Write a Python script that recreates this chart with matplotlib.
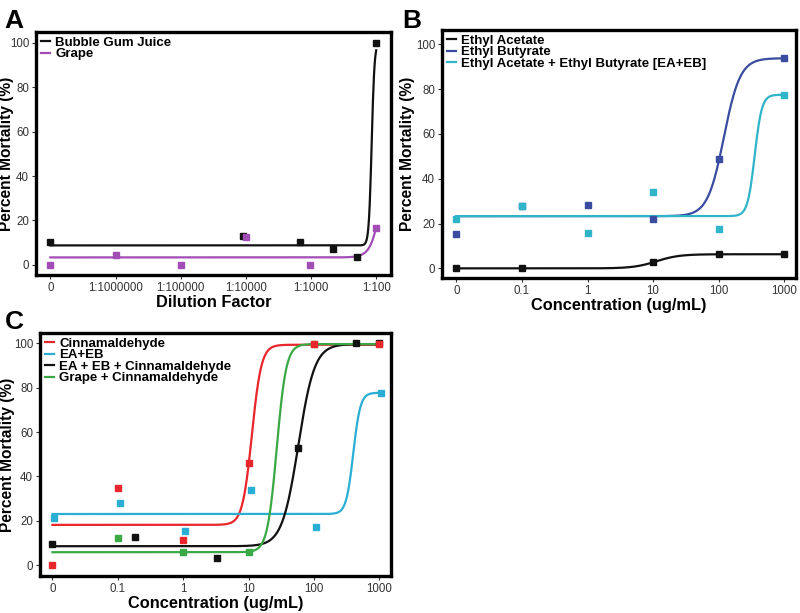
import numpy as np
import matplotlib
matplotlib.use("Agg")
import matplotlib.pyplot as plt

plt.rcParams['font.family'] = ['Liberation Sans', 'DejaVu Sans']

# ---------------- Panel A data ----------------
a_tick_labels = ["0", "1:1000000", "1:100000", "1:10000", "1:1000", "1:100"]
a_tick_vals = [0, 1e-6, 1e-5, 1e-4, 1e-3, 1e-2]
a_bgj_x = [0, 8.9e-5, 6.8e-4, 2.2e-3, 5.1e-3, 1e-2]
a_bgj_y = [10.2, 13.2, 10.2, 7.0, 3.7, 100.0]
a_grape_x = [0, 1e-6, 1e-5, 1.0e-4, 9.5e-4, 1e-2]
a_grape_y = [0.0, 4.3, 0.0, 12.6, 0.0, 16.8]
# fitted 4PL parameters: bottom, top, log EC50, hill
a_bgj_fit = [8.8, 100.0, -2.07, 20.0]
a_grape_fit = [3.4, 95.0, -1.85, 5.0]

# ---------------- Panel B data ----------------
conc_tick_labels = ["0", "0.1", "1", "10", "100", "1000"]
conc_tick_vals = [0, 0.1, 1, 10, 100, 1000]
b_ea_x = [0, 0.1, 10, 100, 1000]
b_ea_y = [0.0, 0.0, 3.0, 6.4, 6.4]
b_eb_x = [0, 0.1, 1, 10, 100, 1000]
b_eb_y = [15.3, 28.0, 28.3, 22.0, 48.7, 94.0]
b_mix_x = [0, 0.1, 1, 10, 100, 1000]
b_mix_y = [21.9, 27.8, 15.6, 34.2, 17.7, 77.4]
b_ea_fit = [0.0, 6.3, 1.05, 2.5]
b_eb_fit = [23.3, 93.8, 2.08, 3.5]
b_mix_fit = [23.3, 77.5, 2.55, 8.0]

# ---------------- Panel C data ----------------
c_cin_x = [0, 0.1, 1, 10, 100, 1000]
c_cin_y = [0.0, 35.0, 11.3, 46.0, 99.5, 99.5]
c_mix_x = [0, 0.107, 1.06, 10.7, 107, 1050]
c_mix_y = [21.5, 27.9, 15.3, 33.9, 17.3, 77.6]
c_trip_x = [0, 0.18, 3.3, 57, 440, 1000]
c_trip_y = [9.6, 12.8, 3.5, 53.0, 100.0, 100.0]
c_grape_x = [0.1, 1, 10, 100]
c_grape_y = [12.5, 6.2, 6.2, 99.5]
c_cin_fit = [18.2, 99.3, 1.05, 6.0]
c_mix_fit = [23.1, 77.7, 2.6, 8.0]
c_trip_fit = [8.6, 99.6, 1.76, 3.5]
c_grape_fit = [5.9, 99.6, 1.43, 6.0]

BLACK = "#111111"
PURPLE = "#a24db5"
BLUE = "#3a4ca0"
CYAN_B = "#2fb4c8"
CYAN_C = "#2aaed3"
RED = "#e8262b"
GREEN = "#3aa845"


def pos(vals, zero_pos):
    v = np.asarray(vals, dtype=float)
    out = np.full(v.shape, float(zero_pos))
    nz = v > 0
    out[nz] = np.log10(v[nz])
    return out


def curve(p, x):
    b, t, ec, h = p
    return b + (t - b) / (1.0 + 10 ** ((ec - x) * h))


def style(ax, xlim, ylim, ticks, labels, xlabel, ylab_x):
    ax.set_xlim(*xlim)
    ax.set_ylim(*ylim)
    ax.set_xticks(ticks)
    ax.set_xticklabels(labels)
    ax.set_yticks([0, 20, 40, 60, 80, 100])
    for s in ax.spines.values():
        s.set_linewidth(2.4)
        s.set_color("black")
    ax.tick_params(direction="out", length=3, width=0.8, labelsize=8.3,
                   labelcolor="#333333", color="#333333", pad=2)
    ax.set_xlabel(xlabel, fontsize=11.8, fontweight="bold", labelpad=1)
    ax.set_ylabel("Percent Mortality (%)", fontsize=11.2, fontweight="bold")
    ax.yaxis.set_label_coords(ylab_x, 0.5)


def legend(ax):
    ax.legend(loc="upper left", frameon=False, handlelength=0.7,
              handletextpad=0.4, labelspacing=-0.06, borderpad=0.0,
              borderaxespad=0.35, prop={"weight": "bold", "size": 9.5})


fig = plt.figure(figsize=(8, 6.13), dpi=100)

# ---------- A ----------
axA = fig.add_axes([0.045, 0.5514, 0.444, 0.3966])
xa = np.linspace(-7, -2, 600)
axA.plot(xa, curve(a_bgj_fit, xa), color=BLACK, lw=1.6, label="Bubble Gum Juice")
axA.plot(xa, curve(a_grape_fit, xa), color=PURPLE, lw=1.6, label="Grape")
axA.plot(pos(a_bgj_x, -7), a_bgj_y, "s", color=BLACK, ms=4)
axA.plot(pos(a_grape_x, -7), a_grape_y, "s", color=PURPLE, ms=4)
style(axA, (-7.22, -1.77), (-4.5, 104.8), pos(a_tick_vals, -7), a_tick_labels,
      "Dilution Factor", -0.062)
legend(axA)
fig.text(0.006, 0.955, "A", fontsize=19, fontweight="bold")

# ---------- B ----------
axB = fig.add_axes([0.5525, 0.5465, 0.4425, 0.4046])
xb = np.linspace(-2, 3, 600)
axB.plot(xb, curve(b_ea_fit, xb), color=BLACK, lw=1.6, label="Ethyl Acetate")
axB.plot(xb, curve(b_eb_fit, xb), color=BLUE, lw=1.6, label="Ethyl Butyrate")
axB.plot(xb, curve(b_mix_fit, xb), color=CYAN_B, lw=1.6,
         label="Ethyl Acetate + Ethyl Butyrate [EA+EB]")
axB.plot(pos(b_ea_x, -2), b_ea_y, "s", color=BLACK, ms=4)
axB.plot(pos(b_eb_x, -2), b_eb_y, "s", color=BLUE, ms=4)
axB.plot(pos(b_mix_x, -2), b_mix_y, "s", color=CYAN_B, ms=4)
style(axB, (-2.22, 3.18), (-4.3, 106.4), pos(conc_tick_vals, -2), conc_tick_labels,
      "Concentration (ug/mL)", -0.077)
legend(axB)
fig.text(0.503, 0.955, "B", fontsize=19, fontweight="bold")

# ---------- C ----------
axC = fig.add_axes([0.05, 0.0604, 0.439, 0.3964])
xc = np.linspace(-2, 3, 600)
axC.plot(xc, curve(c_cin_fit, xc), color=RED, lw=1.6, label="Cinnamaldehyde")
axC.plot(xc, curve(c_mix_fit, xc), color=CYAN_C, lw=1.6, label="EA+EB")
axC.plot(xc, curve(c_trip_fit, xc), color=BLACK, lw=1.6, label="EA + EB + Cinnamaldehyde")
axC.plot(xc, curve(c_grape_fit, xc), color=GREEN, lw=1.6, label="Grape + Cinnamaldehyde")
axC.plot(pos(c_mix_x, -1.97), c_mix_y, "s", color=CYAN_C, ms=4)
axC.plot(pos(c_trip_x, -2), c_trip_y, "s", color=BLACK, ms=4)
axC.plot(pos(c_grape_x, -2), c_grape_y, "s", color=GREEN, ms=4)
axC.plot(pos(c_cin_x, -2), c_cin_y, "s", color=RED, ms=4)
style(axC, (-2.19, 3.18), (-4.8, 104.6), pos(conc_tick_vals, -2), conc_tick_labels,
      "Concentration (ug/mL)", -0.07)
legend(axC)
fig.text(0.006, 0.463, "C", fontsize=19, fontweight="bold")

fig.savefig("out.png", dpi=100)
